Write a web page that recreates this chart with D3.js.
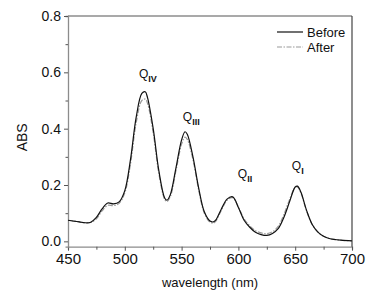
<!DOCTYPE html>
<html>
<head>
<meta charset="utf-8">
<script src="https://cdn.jsdelivr.net/npm/d3@7"></script>
<style>
  body { margin: 0; background: #fff; }
  svg { display: block; font-family: Arial, "Liberation Sans", sans-serif; }
</style>
</head>
<body>
<div id="chart"></div>
<script>
// wavelength (nm) samples
const wavelengths = [450, 455, 460, 465, 470, 475, 480, 485, 490, 495, 500, 505, 510, 515, 518, 520, 525, 530, 535, 537, 540, 545, 550, 553, 555, 560, 565, 570, 575, 578, 580, 585, 590, 595, 600, 605, 610, 615, 620, 625, 630, 635, 640, 645, 650, 652, 655, 660, 665, 670, 675, 680, 690, 700];

const before = [0.075, 0.072, 0.069, 0.066, 0.068, 0.085, 0.115, 0.136, 0.133, 0.140, 0.180, 0.290, 0.440, 0.525, 0.531, 0.510, 0.400, 0.250, 0.155, 0.146, 0.165, 0.260, 0.360, 0.389, 0.380, 0.300, 0.190, 0.105, 0.072, 0.069, 0.075, 0.115, 0.150, 0.158, 0.120, 0.075, 0.050, 0.032, 0.024, 0.021, 0.028, 0.045, 0.085, 0.140, 0.193, 0.196, 0.175, 0.110, 0.060, 0.033, 0.018, 0.010, 0.004, 0.002];

const after = [0.075, 0.072, 0.069, 0.066, 0.067, 0.080, 0.108, 0.128, 0.127, 0.135, 0.172, 0.275, 0.420, 0.500, 0.505, 0.490, 0.385, 0.240, 0.150, 0.141, 0.158, 0.250, 0.345, 0.370, 0.362, 0.290, 0.183, 0.100, 0.068, 0.065, 0.071, 0.110, 0.146, 0.155, 0.122, 0.080, 0.055, 0.038, 0.030, 0.027, 0.034, 0.053, 0.095, 0.148, 0.192, 0.193, 0.172, 0.108, 0.059, 0.033, 0.018, 0.010, 0.004, 0.002];

const xTicks = [450, 500, 550, 600, 650, 700];
const yTicks = [0.0, 0.2, 0.4, 0.6, 0.8];

// band labels: Q + roman subscript, placed at (wavelength, ABS)
const bandNames = ["IV", "III", "II", "I"];
const bandWl = [512.4, 551.1, 599.5, 647];
const bandAbs = [0.58, 0.427, 0.224, 0.253];

const width = 381, height = 296;
const margin = { top: 16, right: 29, bottom: 49.3, left: 68 };

const svg = d3.select("#chart").append("svg")
    .attr("width", width)
    .attr("height", height);

const x = d3.scaleLinear().domain([450, 700]).range([margin.left, width - margin.right]);
const y = d3.scaleLinear().domain([-0.019, 0.8]).range([height - margin.bottom, margin.top]);

const axisColor = "#8c8c8c";

// Axes (major + minor ticks)
const gx = svg.append("g").attr("transform", `translate(0,${y.range()[0]})`);
gx.call(d3.axisBottom(x).tickValues(d3.range(475, 700, 50)).tickSize(3).tickFormat(""));
gx.call(g => {
    const maj = g.append("g").call(d3.axisBottom(x).tickValues(xTicks).tickSize(4).tickPadding(3).tickFormat(d3.format("d")));
    maj.select(".domain").remove();
    maj.selectAll("text").attr("font-size", 15).attr("fill", "#111").attr("font-family", "Arial, 'Liberation Sans', sans-serif");
});

const gy = svg.append("g").attr("transform", `translate(${x.range()[0]},0)`);
gy.call(d3.axisLeft(y).tickValues([0.1, 0.3, 0.5, 0.7]).tickSize(2.5).tickFormat(""));
gy.call(g => {
    const maj = g.append("g").call(d3.axisLeft(y).tickValues(yTicks).tickSize(4).tickPadding(3).tickFormat(d3.format(".1f")));
    maj.select(".domain").remove();
    maj.selectAll("text").attr("font-size", 14).attr("fill", "#111").attr("font-family", "Arial, 'Liberation Sans', sans-serif");
});

svg.selectAll(".domain").attr("stroke", axisColor).attr("stroke-width", 1.3);
svg.selectAll(".tick line").attr("stroke", "#555");

// frame top + right
svg.append("line")
    .attr("x1", x.range()[0]).attr("x2", x.range()[1])
    .attr("y1", y.range()[1]).attr("y2", y.range()[1])
    .attr("stroke", axisColor).attr("stroke-width", 1.3);
svg.append("line")
    .attr("x1", x.range()[1]).attr("x2", x.range()[1])
    .attr("y1", y.range()[1]).attr("y2", y.range()[0])
    .attr("stroke", "#444").attr("stroke-width", 1.2);

// Curves
const line = d3.line()
    .x((d, i) => x(wavelengths[i]))
    .y(d => y(d))
    .curve(d3.curveCatmullRom.alpha(0.5));

svg.append("path")
    .datum(after)
    .attr("d", line)
    .attr("fill", "none")
    .attr("stroke", "#9a9a9a")
    .attr("stroke-width", 1.2)
    .attr("stroke-dasharray", "5,1.5,1.5,1.5");

svg.append("path")
    .datum(before)
    .attr("d", line)
    .attr("fill", "none")
    .attr("stroke", "#111")
    .attr("stroke-width", 1.2);

// Band labels
const bands = svg.selectAll("text.band")
    .data(bandNames)
    .enter().append("text")
    .attr("class", "band")
    .attr("x", (d, i) => x(bandWl[i]))
    .attr("y", (d, i) => y(bandAbs[i]))
    .attr("font-size", 12)
    .attr("fill", "#111");
bands.append("tspan").text("Q");
bands.append("tspan")
    .attr("dy", 4)
    .attr("font-size", 9)
    .attr("font-weight", "bold")
    .text(d => d);

// Legend
const legend = [["Before", "#111", null], ["After", "#9a9a9a", "5,1.5,1.5,1.5"]];
const lg = svg.append("g");
legend.forEach(([name, color, dash], i) => {
    const ly = 32 + i * 15;
    lg.append("line")
        .attr("x1", 277).attr("x2", 303)
        .attr("y1", ly).attr("y2", ly)
        .attr("stroke", color).attr("stroke-width", 1.2)
        .attr("stroke-dasharray", dash);
    lg.append("text")
        .attr("x", 307).attr("y", ly)
        .attr("dy", "0.35em")
        .attr("font-size", 13)
        .attr("fill", "#111")
        .text(name);
});

// Axis titles
svg.append("text")
    .attr("x", (x.range()[0] + x.range()[1]) / 2)
    .attr("y", 287)
    .attr("text-anchor", "middle")
    .attr("font-size", 13)
    .attr("fill", "#111")
    .text("wavelength (nm)");

svg.append("text")
    .attr("transform", `translate(27,${(y.range()[0] + y.range()[1]) / 2 + 6}) rotate(-90)`)
    .attr("text-anchor", "middle")
    .attr("font-size", 14)
    .attr("fill", "#111")
    .text("ABS");
</script>
</body>
</html>
